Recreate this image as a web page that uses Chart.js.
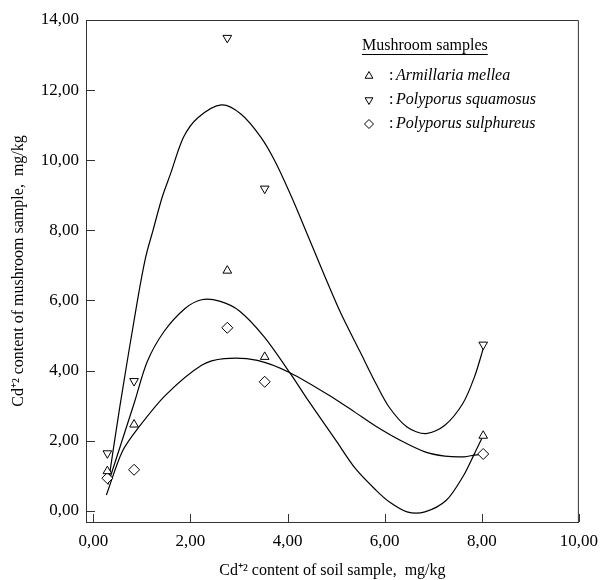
<!DOCTYPE html>
<html>
<head>
<meta charset="utf-8">
<script src="https://cdn.jsdelivr.net/npm/chart.js@4.4.0/dist/chart.umd.min.js"></script>
<style>
  body { margin: 0; background: #fff; }
</style>
</head>
<body>
<canvas id="grafico" width="607" height="580"></canvas>
<script>
// soil samples (mg/kg) and Cd content of the mushrooms
const soilX = [0.29, 0.84, 2.76, 3.53, 8.03];
const melleaY = [1.13, 2.46, 6.85, 4.39, 2.14];
const squamosusY = [1.64, 3.70, 13.49, 9.19, 4.74];
const sulphureusY = [0.93, 1.17, 5.22, 3.68, 1.62];

// fitted curves
const squamosusFitX = [0.32, 0.55, 0.91, 1.08, 1.23, 1.42, 1.59, 1.86, 2.16, 2.64, 3.04, 3.45, 3.75, 4.1, 4.46, 5.07, 5.5, 5.82, 6.09, 6.46, 6.85, 7.24, 7.61, 7.85, 8.04];
const squamosusFitY = [0.9, 3.0, 6.0, 7.24, 8.0, 8.95, 9.61, 10.66, 11.22, 11.58, 11.32, 10.66, 9.95, 8.9, 7.71, 5.72, 4.52, 3.63, 2.96, 2.39, 2.2, 2.44, 3.06, 3.82, 4.67];
const melleaFitX = [0.3, 0.84, 1.11, 1.45, 1.89, 2.23, 2.6, 3.01, 3.52, 4.06, 4.4, 5.0, 5.4, 5.82, 6.1, 6.46, 6.83, 7.27, 7.61, 7.85, 8.0];
const melleaFitY = [0.75, 3.06, 4.25, 5.1, 5.77, 6.02, 5.98, 5.7, 4.96, 3.91, 3.2, 2.0, 1.2, 0.59, 0.25, -0.03, -0.03, 0.3, 0.97, 1.63, 2.06];
const sulphureusFitX = [0.27, 0.6, 0.94, 1.49, 2.23, 2.7, 3.38, 4.06, 5.0, 5.4, 5.82, 6.32, 6.83, 7.24, 7.64, 7.85, 8.02];
const sulphureusFitY = [0.45, 1.7, 2.39, 3.3, 4.15, 4.34, 4.29, 3.93, 3.17, 2.8, 2.41, 2.01, 1.68, 1.56, 1.54, 1.59, 1.62];

const xTicks = [0, 2, 4, 6, 8, 10];
const xTickLabels = ['0,00', '2,00', '4,00', '6,00', '8,00', '10,00'];
const yTicks = [0, 2, 4, 6, 8, 10, 12, 14];
const yTickLabels = ['0,00', '2,00', '4,00', '6,00', '8,00', '10,00', '12,00', '14,00'];

const legendNames = ['Armillaria mellea', 'Polyporus squamosus', 'Polyporus sulphureus'];

const serif = "'Liberation Serif', 'Times New Roman', serif";
const toPoints = (xs, ys) => xs.map((x, i) => ({ x: x, y: ys[i] }));

function pontos(ys, style, rot) {
  return {
    type: 'scatter',
    data: toPoints(soilX, ys),
    pointStyle: style,
    pointRotation: rot,
    pointRadius: style === 'rectRot' ? 5.5 : 5,
    pointBackgroundColor: '#fff',
    pointBorderColor: '#000',
    pointBorderWidth: 1,
    order: 1
  };
}

function curva(xs, ys) {
  return {
    type: 'line',
    data: toPoints(xs, ys),
    borderColor: '#000',
    borderWidth: 1.2,
    pointRadius: 0,
    tension: 0.3,
    fill: false,
    order: 2
  };
}

// frame, inward ticks and the legend box
const moldura = {
  id: 'moldura',
  afterDatasetsDraw(chart) {
    const { ctx, chartArea: a, scales: { x, y } } = chart;
    ctx.save();
    ctx.strokeStyle = '#333';
    ctx.lineWidth = 1;
    ctx.beginPath();
    ctx.moveTo(a.left, a.top + 0.5);
    ctx.lineTo(a.right - 0.5, a.top + 0.5);
    ctx.lineTo(a.right - 0.5, a.bottom);
    x.ticks.forEach(t => {
      const px = Math.round(x.getPixelForValue(t.value)) + 0.5;
      ctx.moveTo(px, a.bottom);
      ctx.lineTo(px, a.bottom - 8);
    });
    y.ticks.forEach(t => {
      const py = Math.round(y.getPixelForValue(t.value)) + 0.5;
      ctx.moveTo(a.left, py);
      ctx.lineTo(a.left + 9, py);
    });
    ctx.stroke();

    // legend
    ctx.fillStyle = '#000';
    ctx.textBaseline = 'middle';
    ctx.textAlign = 'left';
    ctx.font = '16px ' + serif;
    const title = 'Mushroom samples';
    ctx.fillText(title, 362, 46);
    const w = ctx.measureText(title).width;
    ctx.beginPath();
    ctx.moveTo(362, 54.5);
    ctx.lineTo(362 + w, 54.5);
    ctx.strokeStyle = '#000';
    ctx.stroke();

    const estilos = [['triangle', 0], ['triangle', 180], ['rectRot', 0]];
    legendNames.forEach((nome, i) => {
      const yy = 76 + i * 24;
      ctx.fillStyle = '#fff';
      ctx.strokeStyle = '#000';
      Chart.helpers.drawPoint(ctx, { pointStyle: estilos[i][0], rotation: estilos[i][1], radius: 4.5, borderWidth: 1 }, 369, yy);
      ctx.fillStyle = '#000';
      ctx.font = '16px ' + serif;
      ctx.fillText(':', 389, yy);
      ctx.font = 'italic 16px ' + serif;
      ctx.fillText(nome, 396, yy);
    });
    ctx.restore();
  }
};

const ctx = document.getElementById('grafico').getContext('2d');
const grafico = new Chart(ctx, {
  data: {
    datasets: [
      pontos(melleaY, 'triangle', 0),
      pontos(squamosusY, 'triangle', 180),
      pontos(sulphureusY, 'rectRot', 0),
      curva(squamosusFitX, squamosusFitY),
      curva(melleaFitX, melleaFitY),
      curva(sulphureusFitX, sulphureusFitY)
    ]
  },
  options: {
    responsive: false,
    animation: false,
    devicePixelRatio: 1,
    layout: { padding: { top: 20, right: 21, left: 0, bottom: 0 } },
    plugins: { legend: { display: false }, tooltip: { enabled: false } },
    scales: {
      x: {
        type: 'linear',
        min: -0.15,
        max: 10,
        afterBuildTicks: s => { s.ticks = xTicks.map(v => ({ value: v })); },
        afterFit: s => { s.height = 58; },
        grid: { display: true, drawOnChartArea: false, drawTicks: false },
        border: { display: true, color: '#333', width: 1 },
        ticks: {
          padding: 9,
          color: '#000',
          font: { family: serif, size: 17 },
          callback: (v, i) => xTickLabels[i]
        },
        title: {
          display: true,
          text: 'Cd\u207A\u00B2 content of soil sample,  mg/kg',
          color: '#000',
          font: { family: serif, size: 16 },
          padding: { top: 0, bottom: 0 }
        }
      },
      y: {
        type: 'linear',
        min: -0.32,
        max: 14,
        afterBuildTicks: s => { s.ticks = yTicks.map(v => ({ value: v })); },
        afterFit: s => { s.width = 86; },
        grid: { display: true, drawOnChartArea: false, drawTicks: false },
        border: { display: true, color: '#333', width: 1 },
        ticks: {
          padding: 7,
          color: '#000',
          font: { family: serif, size: 17 },
          callback: (v, i) => yTickLabels[i]
        },
        title: {
          display: true,
          text: 'Cd\u207A\u00B2 content of mushroom sample,  mg/kg',
          color: '#000',
          font: { family: serif, size: 16 },
          padding: { top: 9, bottom: 0 }
        }
      }
    }
  },
  plugins: [moldura]
});
</script>
</body>
</html>
